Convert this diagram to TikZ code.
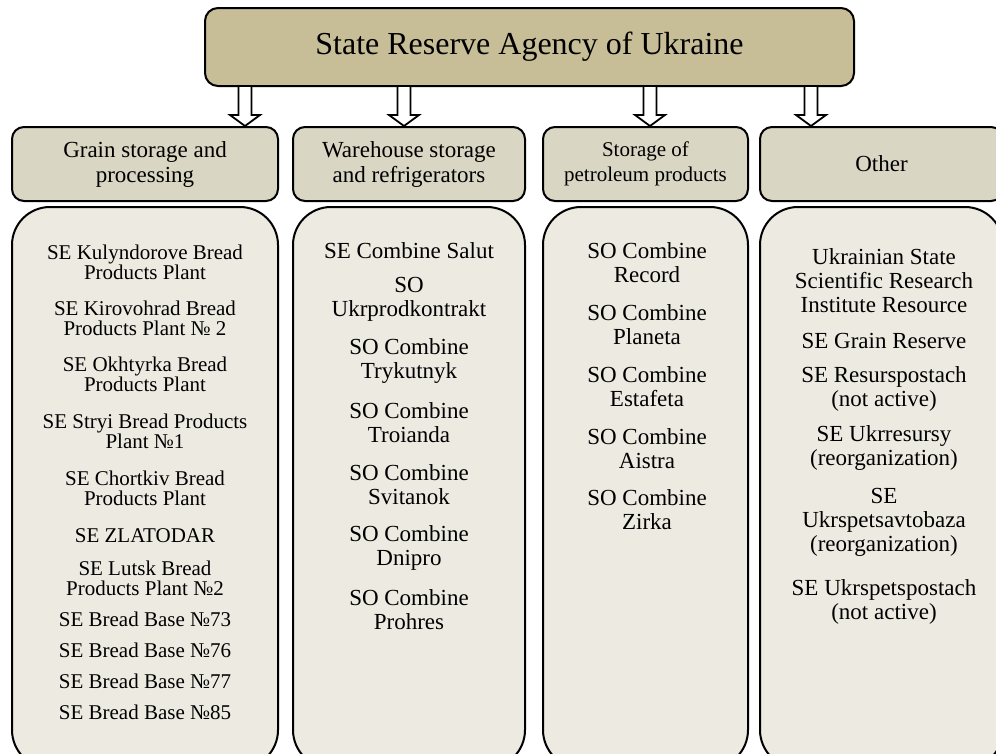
\documentclass[tikz,border=0pt]{standalone}
\usepackage{fontspec}
\setmainfont{Liberation Serif}
\usetikzlibrary{calc}
\definecolor{topfill}{RGB}{199,190,152}
\definecolor{headfill}{RGB}{217,214,196}
\definecolor{bodyfill}{RGB}{237,234,225}
\begin{document}
\begin{tikzpicture}[x=1pt,y=-1pt,
 topbox/.style={draw=black, line width=2pt, fill=topfill, rounded corners=13pt, minimum width=649pt, minimum height=78pt, inner sep=0pt, font=\fontsize{32}{38}\selectfont},
 headbox/.style={draw=black, line width=2pt, fill=headfill, rounded corners=12pt, minimum height=74pt, inner sep=0pt, align=center, font=\fontsize{23}{25}\selectfont},
 bodybox/.style={draw=black, line width=2pt, fill=bodyfill, rounded corners=38pt, minimum height=561pt, inner sep=0pt},
 eone/.style={align=center, font=\fontsize{21}{20}\selectfont, inner sep=0pt},
 etwo/.style={align=center, font=\fontsize{23}{24}\selectfont, inner sep=0pt},
 hollow/.style={draw=black, line width=1.8pt, fill=white, line join=miter}
]
\useasboundingbox (0,0) rectangle (996,753);
\clip (0,0) rectangle (996,753);
\fill[white] (0,0) rectangle (996,753);

% top box
\node[topbox] (top) at (529.5,47) {State Reserve Agency of Ukraine};

% header boxes
\node[headbox, minimum width=266pt] (h1) at (145,164) {Grain storage and\\processing};
\node[headbox, minimum width=232pt] (h2) at (409,164) {Warehouse storage\\and refrigerators};
\node[headbox, minimum width=205pt, font=\fontsize{21}{25}\selectfont] (h3) at (645.5,164) {Storage of\\petroleum products};
\node[headbox, minimum width=243pt, text width=243pt] (h4) at (881.5,164) {Other};

% arrows
\coordinate (a1) at ($(top.south west)+(41,0)$);
\coordinate (a2) at ($(top.south west)+(200,0)$);
\coordinate (a3) at ($(top.south west)+(446,0)$);
\coordinate (a4) at ($(top.south west)+(607,0)$);
\foreach \a/\h in {a1/h1, a2/h2, a3/h3, a4/h4}{
  \coordinate (t) at (\a |- \h.north);
  \draw[hollow] ($(\a)+(-6.5,0)$) -- ($(t)+(-6.5,-11)$) -- ($(t)+(-15,-11)$) -- (t)
     -- ($(t)+(15,-11)$) -- ($(t)+(6.5,-11)$) -- ($(\a)+(6.5,0)$);
}

% body boxes
\node[bodybox, minimum width=266pt] (b1) at (145,487.5) {};
\node[bodybox, minimum width=232pt] (b2) at (409,487.5) {};
\node[bodybox, minimum width=205pt] (b3) at (645.5,487.5) {};
\node[bodybox, minimum width=243pt] (b4) at (881.5,487.5) {};

% column 1
\node[eone] (c1e1) at (b1 |- 0,262) {SE Kulyndorove Bread\\Products Plant};
\node[eone] (c1e2) at (b1 |- 0,318) {SE Kirovohrad Bread\\Products Plant № 2};
\node[eone] (c1e3) at (b1 |- 0,374) {SE Okhtyrka Bread\\Products Plant};
\node[eone] (c1e4) at (b1 |- 0,431) {SE Stryi Bread Products\\Plant №1};
\node[eone] (c1e5) at (b1 |- 0,488) {SE Chortkiv Bread\\Products Plant};
\node[eone] (c1e6) at (b1 |- 0,536) {SE ZLATODAR};
\node[eone] (c1e7) at (b1 |- 0,578) {SE Lutsk Bread\\Products Plant №2};
\node[eone] (c1e8) at (b1 |- 0,619) {SE Bread Base №73};
\node[eone] (c1e9) at (b1 |- 0,650) {SE Bread Base №76};
\node[eone] (c1e10) at (b1 |- 0,681) {SE Bread Base №77};
\node[eone] (c1e11) at (b1 |- 0,712) {SE Bread Base №85};

% column 2
\node[etwo] (c2e1) at (b2 |- 0,251) {SE Combine Salut};
\node[etwo] (c2e2) at (b2 |- 0,299) {SO\\Ukrprodkontrakt};
\node[etwo] (c2e3) at (b2 |- 0,361) {SO Combine\\Trykutnyk};
\node[etwo] (c2e4) at (b2 |- 0,423) {SO Combine\\Troianda};
\node[etwo] (c2e5) at (b2 |- 0,485) {SO Combine\\Svitanok};
\node[etwo] (c2e6) at (b2 |- 0,548) {SO Combine\\Dnipro};
\node[etwo] (c2e7) at (b2 |- 0,610) {SO Combine\\Prohres};

% column 3
\node[etwo] (c3e1) at (647,263) {SO Combine\\Record};
\node[etwo] (c3e2) at (647,325) {SO Combine\\Planeta};
\node[etwo] (c3e3) at (647,387) {SO Combine\\Estafeta};
\node[etwo] (c3e4) at (647,449) {SO Combine\\Aistra};
\node[etwo] (c3e5) at (647,510) {SO Combine\\Zirka};

% column 4
\node[etwo] (c4e1) at (884,281) {Ukrainian State\\Scientific Research\\Institute Resource};
\node[etwo] (c4e2) at (884,341) {SE Grain Reserve};
\node[etwo] (c4e3) at (884,389) {SE Resurspostach\\(not active)};
\node[etwo] (c4e4) at (884,448) {SE Ukrresursy\\(reorganization)};
\node[etwo] (c4e5) at (884,522) {SE\\Ukrspetsavtobaza\\(reorganization)};
\node[etwo] (c4e6) at (884,602) {SE Ukrspetspostach\\(not active)};
\end{tikzpicture}
\end{document}
